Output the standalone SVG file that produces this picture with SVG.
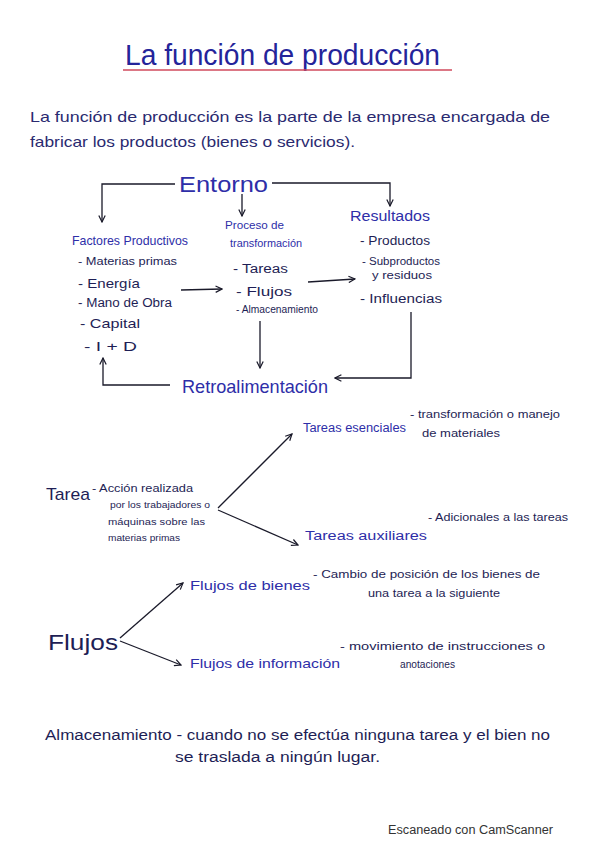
<svg xmlns="http://www.w3.org/2000/svg" width="599" height="848" viewBox="0 0 599 848">
<defs>
<marker id="ah" viewBox="0 0 10 10" refX="9" refY="5" markerWidth="8" markerHeight="8" orient="auto" markerUnits="userSpaceOnUse">
<polyline points="1,1 9,5 1,9" fill="none" stroke="#1a1a2a" stroke-width="1.5"/>
</marker>
<style>
text{font-family:"Liberation Sans",Arial,sans-serif}
.t{fill:#24249a}
.b{fill:#2a2a70}
.h{fill:#2e2ea8}
.k{fill:#1e1e55}
.c{fill:none;stroke:#1a1a2a;stroke-width:1.3}
</style>
</defs>
<rect width="599" height="848" fill="#ffffff"/>
<g id="title">
<text class="t" x="125" y="65" font-size="30" textLength="315" lengthAdjust="spacingAndGlyphs">La función de producción</text>
<line x1="123" y1="70" x2="452" y2="70" stroke="#d04a5c" stroke-width="1.5"/>
</g>
<g id="intro">
<text class="b" x="30" y="122" font-size="15" textLength="520" lengthAdjust="spacingAndGlyphs">La función de producción es la parte de la empresa encargada de</text>
<text class="b" x="30" y="147" font-size="15" textLength="325" lengthAdjust="spacingAndGlyphs">fabricar los productos (bienes o servicios).</text>
</g>
<g id="connectors">
<polyline class="c" points="175,184 102,184 102,222" marker-end="url(#ah)"/>
<polyline class="c" points="272,183 390,183 390,206" marker-end="url(#ah)"/>
<line class="c" x1="242" y1="194" x2="242" y2="216" marker-end="url(#ah)"/>
<line class="c" x1="181" y1="290" x2="222" y2="289" marker-end="url(#ah)"/>
<line class="c" x1="308" y1="282" x2="355" y2="279" marker-end="url(#ah)"/>
<line class="c" x1="260" y1="321" x2="260" y2="368" marker-end="url(#ah)"/>
<polyline class="c" points="411,312 411,378 335,378" marker-end="url(#ah)"/>
<polyline class="c" points="170,385 103,385 103,358" marker-end="url(#ah)"/>
<line class="c" x1="218" y1="508" x2="292" y2="434" marker-end="url(#ah)"/>
<line class="c" x1="218" y1="510" x2="298" y2="545" marker-end="url(#ah)"/>
<line class="c" x1="120" y1="638" x2="183" y2="583" marker-end="url(#ah)"/>
<line class="c" x1="120" y1="641" x2="181" y2="665" marker-end="url(#ah)"/>
</g>
<g id="entorno">
<text class="h" x="179" y="192" font-size="22" textLength="89" lengthAdjust="spacingAndGlyphs">Entorno</text>
</g>
<g id="factores">
<text class="h" x="72" y="245" font-size="13" textLength="116" lengthAdjust="spacingAndGlyphs">Factores Productivos</text>
<text class="k" x="78" y="265" font-size="11" textLength="99" lengthAdjust="spacingAndGlyphs">- Materias primas</text>
<text class="k" x="78" y="288" font-size="13" textLength="62" lengthAdjust="spacingAndGlyphs">- Energía</text>
<text class="k" x="78" y="307" font-size="12" textLength="94" lengthAdjust="spacingAndGlyphs">- Mano de Obra</text>
<text class="k" x="80" y="328" font-size="13" textLength="60" lengthAdjust="spacingAndGlyphs">- Capital</text>
<text class="k" x="84" y="351" font-size="13" textLength="53" lengthAdjust="spacingAndGlyphs">- I + D</text>
</g>
<g id="proceso">
<text class="h" x="225" y="229" font-size="11" textLength="59" lengthAdjust="spacingAndGlyphs">Proceso de</text>
<text class="h" x="230" y="247" font-size="11" textLength="72" lengthAdjust="spacingAndGlyphs">transformación</text>
<text class="k" x="233" y="273" font-size="12" textLength="55" lengthAdjust="spacingAndGlyphs">- Tareas</text>
<text class="k" x="236" y="296" font-size="13" textLength="56" lengthAdjust="spacingAndGlyphs">- Flujos</text>
<text class="k" x="236" y="313" font-size="11" textLength="82" lengthAdjust="spacingAndGlyphs">- Almacenamiento</text>
</g>
<g id="resultados">
<text class="h" x="350" y="221" font-size="14" textLength="80" lengthAdjust="spacingAndGlyphs">Resultados</text>
<text class="k" x="360" y="245" font-size="12" textLength="70" lengthAdjust="spacingAndGlyphs">- Productos</text>
<text class="k" x="362" y="265" font-size="10" textLength="78" lengthAdjust="spacingAndGlyphs">- Subproductos</text>
<text class="k" x="372" y="279" font-size="10" textLength="60" lengthAdjust="spacingAndGlyphs">y residuos</text>
<text class="k" x="360" y="303" font-size="12" textLength="82" lengthAdjust="spacingAndGlyphs">- Influencias</text>
</g>
<g id="retro">
<text class="h" x="182" y="393" font-size="19" textLength="146" lengthAdjust="spacingAndGlyphs">Retroalimentación</text>
</g>
<g id="tarea">
<text class="k" x="46" y="500" font-size="17" textLength="44" lengthAdjust="spacingAndGlyphs">Tarea</text>
<text class="k" x="92" y="492" font-size="10" textLength="101" lengthAdjust="spacingAndGlyphs">- Acción realizada</text>
<text class="k" x="110" y="508" font-size="9" textLength="100" lengthAdjust="spacingAndGlyphs">por los trabajadores o</text>
<text class="k" x="108" y="525" font-size="9" textLength="97" lengthAdjust="spacingAndGlyphs">máquinas sobre las</text>
<text class="k" x="108" y="541" font-size="9" textLength="72" lengthAdjust="spacingAndGlyphs">materias primas</text>
</g>
<g id="esenciales">
<text class="h" x="303" y="432" font-size="12" textLength="103" lengthAdjust="spacingAndGlyphs">Tareas esenciales</text>
<text class="k" x="410" y="418" font-size="10" textLength="150" lengthAdjust="spacingAndGlyphs">- transformación o manejo</text>
<text class="k" x="422" y="437" font-size="10" textLength="78" lengthAdjust="spacingAndGlyphs">de materiales</text>
</g>
<g id="auxiliares">
<text class="h" x="305" y="540" font-size="12" textLength="122" lengthAdjust="spacingAndGlyphs">Tareas auxiliares</text>
<text class="k" x="428" y="521" font-size="10" textLength="140" lengthAdjust="spacingAndGlyphs">- Adicionales a las tareas</text>
</g>
<g id="flujos">
<text class="k" x="48" y="650" font-size="22" textLength="70" lengthAdjust="spacingAndGlyphs">Flujos</text>
</g>
<g id="bienes">
<text class="h" x="190" y="590" font-size="13" textLength="120" lengthAdjust="spacingAndGlyphs">Flujos de bienes</text>
<text class="k" x="313" y="578" font-size="10" textLength="227" lengthAdjust="spacingAndGlyphs">- Cambio de posición de los bienes de</text>
<text class="k" x="368" y="597" font-size="10" textLength="132" lengthAdjust="spacingAndGlyphs">una tarea a la siguiente</text>
</g>
<g id="informacion">
<text class="h" x="190" y="668" font-size="13" textLength="150" lengthAdjust="spacingAndGlyphs">Flujos de información</text>
<text class="k" x="340" y="650" font-size="10" textLength="205" lengthAdjust="spacingAndGlyphs">- movimiento de instrucciones o</text>
<text class="k" x="400" y="668" font-size="10" textLength="55" lengthAdjust="spacingAndGlyphs">anotaciones</text>
</g>
<g id="almacenamiento">
<text class="k" x="45" y="740" font-size="14" textLength="505" lengthAdjust="spacingAndGlyphs">Almacenamiento - cuando no se efectúa ninguna tarea y el bien no</text>
<text class="k" x="175" y="762" font-size="14" textLength="205" lengthAdjust="spacingAndGlyphs">se traslada a ningún lugar.</text>
</g>
<g id="footer">
<text x="388" y="834" font-size="12" fill="#333333" textLength="165" lengthAdjust="spacingAndGlyphs">Escaneado con CamScanner</text>
</g>
</svg>
